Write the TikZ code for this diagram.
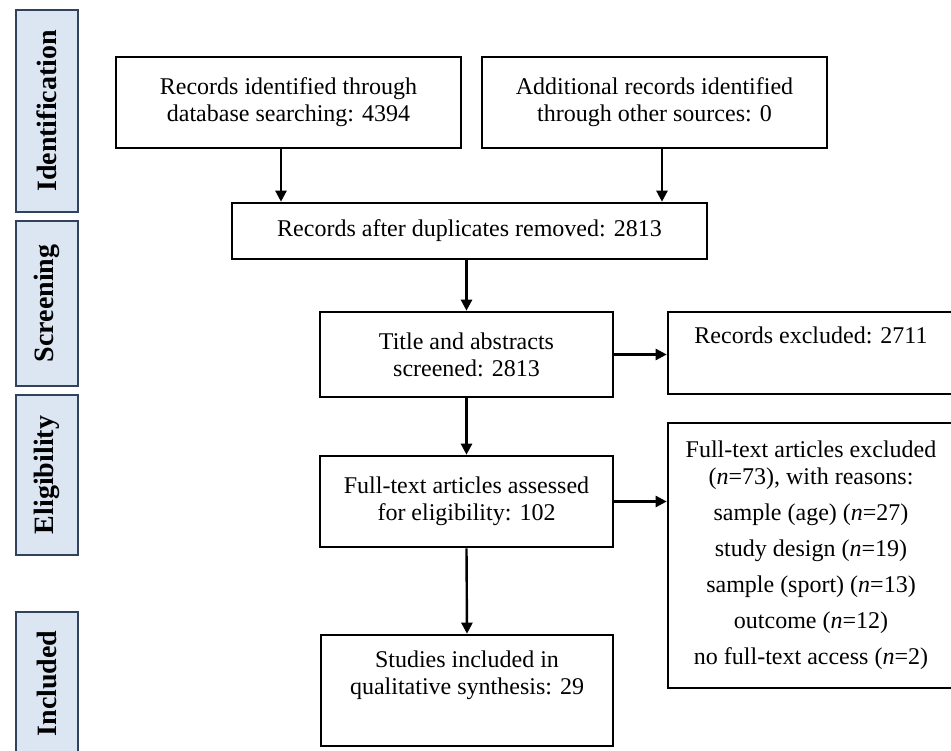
\documentclass[tikz,border=0pt]{standalone}
\usepackage{fontspec}
\setmainfont{Liberation Serif}
\usepackage{tikz}
\usetikzlibrary{arrows.meta}

\definecolor{stagefill}{RGB}{220,230,243}
\definecolor{stageline}{RGB}{50,66,92}

\tikzset{
	stage/.style={draw=stageline, line width=1.4pt, fill=stagefill, rotate=90,
		minimum height=62pt, inner sep=0pt, font=\bfseries\fontsize{28}{30}\selectfont},
	recbox/.style={draw, line width=2.6pt, align=center, inner sep=0pt,
		font=\fontsize{24}{27}\selectfont},
}

\begin{document}
\begin{tikzpicture}[x=1pt, y=-1pt, >={Triangle[length=11pt,width=11pt]}]
			\clip (0,0) rectangle (951,751);
			\node[stage, minimum width=202pt] (idf) at (47,111) {Identification};
			\node[stage, minimum width=165pt] (scr) at (47,303.5) {Screening};
			\node[stage, minimum width=160pt] (elg) at (47,475) {Eligibility};
			\node[stage, minimum width=143pt] (inc) at (47,683.5) {Included};
			\node[recbox, minimum width=345pt, minimum height=91pt] (db) at (288.5,102.5)
			{Records identified through\\database searching: 4394};
			\node[recbox, minimum width=345pt, minimum height=91pt] (other) at (654.5,102.5)
			{Additional records identified\\through other sources: 0};
			\node[recbox, minimum width=475pt, minimum height=56pt] (dupl) at (469.5,231)
			{Records after duplicates removed: 2813};
			\node[recbox, minimum width=293pt, minimum height=85pt] (screen) at (466.5,354.5)
			{Title and abstracts\\screened: 2813};
			\node[recbox, minimum width=286pt, minimum height=82pt] (excl) at (811,353)
			{Records excluded: 2711\\\strut};
			\node[recbox, minimum width=293pt, minimum height=91pt] (full) at (466.5,501.5)
			{Full-text articles assessed\\for eligibility: 102};
			\node[recbox, minimum width=286pt, minimum height=265pt] (fullexcl) at (811,555.5)
			{Full-text articles excluded\\(\textit{n}=73), with reasons:\\[9pt]
			sample (age) (\textit{n}=27)\\[9pt]
			study design (\textit{n}=19)\\[9pt]
			sample (sport) (\textit{n}=13)\\[9pt]
			outcome (\textit{n}=12)\\[9pt]
			no full-text access (\textit{n}=2)};
			\node[recbox, minimum width=292pt, minimum height=111pt] (incl) at (467,690.5)
			{Studies included in\\qualitative synthesis: 29\\\strut};
			\coordinate (d1) at ([xshift=-7.5pt]db.south);
			\coordinate (d2) at ([xshift=7.5pt]other.south);
			\path[->, line width=2.4pt]
			(d1) edge (d1 |- dupl.north)
			(d2) edge (d2 |- dupl.north)
			(screen.north |- dupl.south) edge (screen.north)
			(screen.south) edge (full.north)
			(full.south) edge (incl.north)
			(screen.east) edge (screen.east -| excl.west)
			(full.east) edge (full.east -| fullexcl.west);
		\end{tikzpicture}
\end{document}
